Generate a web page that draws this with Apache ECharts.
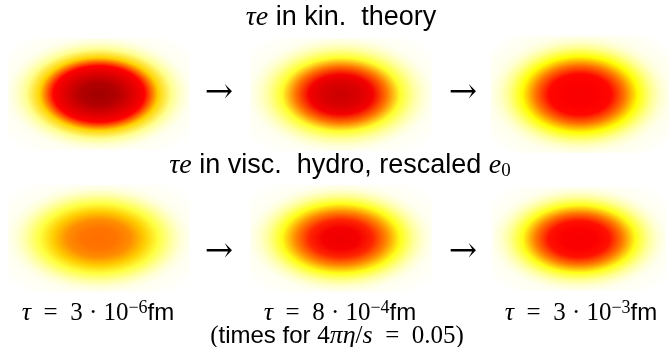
<!DOCTYPE html>
<html>
<head>
<meta charset="utf-8">
<script src="https://cdn.jsdelivr.net/npm/echarts@6/dist/echarts.min.js"></script>
<style>
  html, body { margin: 0; background: #fff; }
  #chart { width: 670px; height: 347px; }
</style>
</head>
<body>
<div id="chart"></div>
<script>
// radial profile of each panel: radius (1 = panel edge) -> intensity in hot_r units
const radii = [0, 0.2, 0.35, 0.5, 0.65, 0.8, 0.9, 1.0, 1.3];
const kinProfiles = [
  [0.77, 0.745, 0.69, 0.635, 0.32, 0.11, 0.05, 0.015, 0],
  [0.71, 0.69, 0.65, 0.46, 0.21, 0.095, 0.045, 0.015, 0],
  [0.645, 0.64, 0.625, 0.46, 0.25, 0.11, 0.05, 0.02, 0]
];
const hydroProfiles = [
  [0.47, 0.46, 0.425, 0.33, 0.19, 0.09, 0.04, 0.015, 0],
  [0.66, 0.65, 0.58, 0.43, 0.23, 0.10, 0.045, 0.015, 0],
  [0.645, 0.64, 0.61, 0.45, 0.23, 0.10, 0.045, 0.015, 0]
];
const blobCenter = [0, 0];
const timeMantissa = ['3', '8', '3'];
const timeExponent = ['−6', '−4', '−3'];

// hot_r colour map
const hotStops = [[0, [255, 255, 255]], [0.254, [255, 255, 0]], [0.635, [255, 0, 0]], [1, [0, 0, 0]]];
function hotR(v) {
  v = Math.max(0, Math.min(1, v));
  for (let i = 1; i < hotStops.length; i++) {
    if (v <= hotStops[i][0]) {
      const a = hotStops[i - 1], b = hotStops[i];
      const t = (v - a[0]) / (b[0] - a[0]);
      const c = a[1].map((x, k) => Math.round(x + (b[1][k] - x) * t));
      return 'rgb(' + c.join(',') + ')';
    }
  }
  return 'rgb(0,0,0)';
}

const panels = [
  { left: 8, top: 38, width: 182, height: 112 },
  { left: 250, top: 38, width: 182, height: 113 },
  { left: 491, top: 36, width: 178, height: 117 },
  { left: 8, top: 185, width: 182, height: 107 },
  { left: 250, top: 185, width: 182, height: 107 },
  { left: 492, top: 187, width: 174, height: 104 }
];
const profiles = kinProfiles.concat(hydroProfiles);

const chart = echarts.init(document.getElementById('chart'));

const grids = [], xAxes = [], yAxes = [], series = [];
panels.forEach((p, i) => {
  grids.push(p);
  xAxes.push({ type: 'value', gridIndex: i, min: -1, max: 1, show: false });
  yAxes.push({ type: 'value', gridIndex: i, min: -1, max: 1, show: false });
  const stops = radii.map((r, k) => ({ offset: r / 1.3, color: hotR(profiles[i][k]) }));
  series.push({
    type: 'custom',
    xAxisIndex: i,
    yAxisIndex: i,
    silent: true,
    data: [blobCenter],
    renderItem: (params, api) => {
      const p0 = api.coord([-1, -1]);
      const p1 = api.coord([1, 1]);
      const c = api.coord([api.value(0), api.value(1)]);
      const hw = Math.abs(p1[0] - p0[0]) / 2;
      const hh = Math.abs(p1[1] - p0[1]) / 2;
      // square with a round gradient, stretched into the panel's ellipse
      return {
        type: 'rect',
        x: c[0],
        y: c[1],
        scaleX: hw / hh,
        shape: { x: -hh, y: -hh, width: 2 * hh, height: 2 * hh },
        style: { fill: { type: 'radial', x: 0.5, y: 0.5, r: 0.65, colorStops: stops } }
      };
    }
  });
});

const serif = 'Liberation Serif';
const sans = 'Liberation Sans';
const rich = {
  tm: { fontFamily: serif, fontStyle: 'italic', fontSize: 28, lineHeight: 30, color: '#000' },
  ts: { fontFamily: sans, fontSize: 27, lineHeight: 30, color: '#000' },
  ts2: { fontFamily: sans, fontSize: 27, lineHeight: 30, color: '#000' },
  tsub: { fontFamily: serif, fontSize: 19, lineHeight: 14, verticalAlign: 'bottom', color: '#000' },
  m: { fontFamily: serif, fontStyle: 'italic', fontSize: 26, lineHeight: 28, color: '#000' },
  r: { fontFamily: serif, fontSize: 25, lineHeight: 28, color: '#000' },
  s: { fontFamily: sans, fontSize: 24, lineHeight: 28, color: '#000' },
  sup: { fontFamily: serif, fontSize: 18, lineHeight: 16, verticalAlign: 'top', color: '#000' }
};
function label(text, x, y) {
  return { type: 'text', x: x, y: y, silent: true,
    style: { text: text, rich: rich, align: 'center', verticalAlign: 'middle' } };
}
function arrow(x, y) {
  return { type: 'text', x: x, y: y, silent: true,
    style: { text: '→', fontFamily: 'DejaVu Serif', fontSize: 34, fill: '#000', align: 'center', verticalAlign: 'middle' } };
}

const graphics = [
  label('{tm|τe}{ts| in kin.  theory}', 341, 18),
  label('{tm|τe}{ts2| in visc.  hydro, rescaled }{tm|e}{tsub|0}', 340, 166),
  arrow(219, 93), arrow(463, 93), arrow(219, 252), arrow(463, 252)
];
const labelX = [98, 340, 581];
timeMantissa.forEach((m, i) => {
  graphics.push(label('{m|τ}{r|  =  ' + m + ' · 10}{sup|' + timeExponent[i] + '}{s|fm}', labelX[i], 313));
});
graphics.push(label('{r|(}{s|times for }{r|4}{m|πη}{r|/}{m|s}{r|  =  0.05)}', 337, 336));

chart.setOption({
  animation: false,
  backgroundColor: '#fff',
  grid: grids,
  xAxis: xAxes,
  yAxis: yAxes,
  series: series,
  graphic: graphics
});
</script>
</body>
</html>
